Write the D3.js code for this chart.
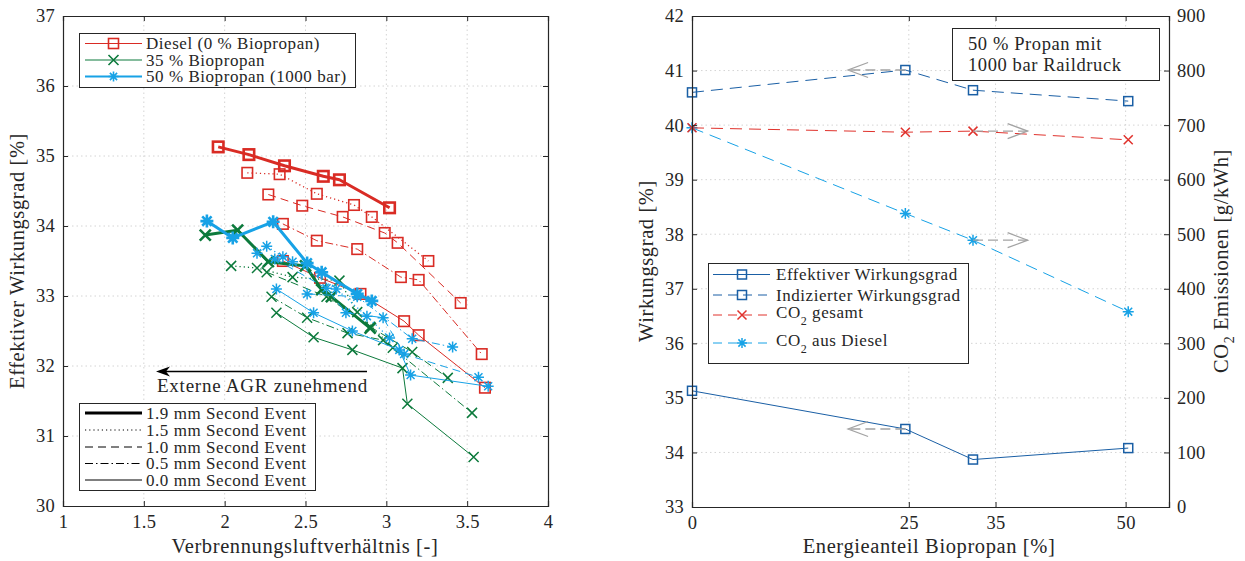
<!DOCTYPE html>
<html><head><meta charset="utf-8">
<script src="https://cdn.jsdelivr.net/npm/d3@7"></script>
<style>
body{margin:0;background:#fff}
text{font-family:"Liberation Serif","Times New Roman",serif;fill:#262626}
</style>
</head><body>
<svg id="c" width="1245" height="561"></svg>
<script>
// ---------------- DATA: left chart (lambda, efficiency) ----------------
const xTicksLeft = [1, 1.5, 2, 2.5, 3, 3.5, 4];
const yTicksLeft = [30, 31, 32, 33, 34, 35, 36, 37];

const diesel19 = [[1.96,35.13],[2.15,35.02],[2.37,34.86],[2.61,34.71],[2.71,34.66],[3.02,34.26]];
const diesel15 = [[2.14,34.76],[2.34,34.74],[2.57,34.46],[2.80,34.30],[2.91,34.13],[3.26,33.50]];
const diesel10 = [[2.27,34.45],[2.48,34.29],[2.73,34.13],[2.99,33.90],[3.07,33.76],[3.46,32.90]];
const diesel05 = [[2.36,34.03],[2.57,33.79],[2.82,33.67],[3.09,33.27],[3.20,33.23],[3.59,32.17]];
const diesel00 = [[2.36,33.50],[2.59,33.26],[2.84,33.03],[3.11,32.64],[3.20,32.44],[3.61,31.69]];

const bio35_19 = [[1.88,33.87],[2.08,33.94],[2.27,33.49],[2.50,33.43],[2.60,33.09],[2.66,32.99],[2.90,32.54]];
const bio35_15 = [[2.04,33.43],[2.20,33.40],[2.42,33.27],[2.71,33.22],[2.82,32.77],[3.04,32.26]];
const bio35_10 = [[2.26,33.34],[2.63,32.99],[2.90,32.56],[3.16,32.20],[3.38,31.83]];
const bio35_05 = [[2.29,32.99],[2.51,32.69],[2.76,32.47],[2.98,32.37],[3.53,31.33]];
const bio35_00 = [[2.32,32.76],[2.55,32.41],[2.79,32.23],[3.10,31.97],[3.13,31.46],[3.54,30.70]];

const bio50_19 = [[1.89,34.07],[2.05,33.83],[2.30,34.06],[2.51,33.47],[2.60,33.34],[2.82,33.03],[2.91,32.93]];
const bio50_15 = [[2.20,33.61],[2.26,33.71],[2.36,33.56],[2.42,33.49],[2.69,33.10],[2.88,32.71],[3.02,32.40]];
const bio50_10 = [[2.31,33.53],[2.63,33.11],[2.75,32.76],[2.98,32.69],[3.11,32.17],[3.57,31.84]];
const bio50_05 = [[2.51,33.03],[2.82,32.99],[3.16,32.39],[3.41,32.27]];
const bio50_00 = [[2.32,33.10],[2.55,32.76],[2.79,32.50],[3.08,32.23],[3.15,31.87],[3.63,31.71]];

const fuelLabels = ["Diesel (0 % Biopropan)", "35 % Biopropan", "50 % Biopropan (1000 bar)"];
const eventLabels = ["1.9 mm Second Event","1.5 mm Second Event","1.0 mm Second Event","0.5 mm Second Event","0.0 mm Second Event"];

// ---------------- DATA: right chart ----------------
const shareBiopropan = [0, 24.6, 32.4, 50.3];
const effWirkungsgrad = [35.13, 34.43, 33.87, 34.08];
const indWirkungsgrad = [40.60, 41.01, 40.64, 40.44];
const co2Gesamt = [695, 687, 689, 673];
const co2Diesel = [695, 538, 489, 358];
const xTicksRight = [0, 25, 35, 50];
const yTicksRightL = [33,34,35,36,37,38,39,40,41,42];
const yTicksRightR = [0,100,200,300,400,500,600,700,800,900];

// ---------------- STYLE ----------------
const RED = "#d92b24", GREEN = "#0c7a3c", LBLUE = "#17a2e6", DBLUE = "#1a5fa5", GRAY = "#a3a3a3", INK = "#262626";
const dashes = {s19:null, s15:"1.2,3", s10:"8,5", s05:"8,3,1.5,3", s00:null};
const LS_LEG = "0.55px", LS_LAB = "0.6px";

const svg = d3.select("#c");

// ---------------- SCALES ----------------
const xL = d3.scaleLinear().domain([1,4]).range([63,548]);
const yL = d3.scaleLinear().domain([30,37]).range([506,16]);
const xR = d3.scaleLinear().domain([0,55]).range([692,1169]);
const yR1 = d3.scaleLinear().domain([33,42]).range([507,16]);
const yR2 = d3.scaleLinear().domain([0,900]).range([507,16]);

function marker(g, type, cx, cy, size, color, sw){
  const s = size/2;
  if(type==="square"){
    g.append("rect").attr("x",cx-s).attr("y",cy-s).attr("width",size).attr("height",size)
      .attr("fill","none").attr("stroke",color).attr("stroke-width",sw);
  } else if(type==="cross"){
    g.append("path").attr("d",`M${cx-s},${cy-s}L${cx+s},${cy+s}M${cx-s},${cy+s}L${cx+s},${cy-s}`)
      .attr("stroke",color).attr("stroke-width",sw).attr("fill","none");
  } else if(type==="star"){
    const d = s*0.72;
    g.append("path").attr("d",`M${cx-s},${cy}L${cx+s},${cy}M${cx},${cy-s}L${cx},${cy+s}M${cx-d},${cy-d}L${cx+d},${cy+d}M${cx-d},${cy+d}L${cx+d},${cy-d}`)
      .attr("stroke",color).attr("stroke-width",sw).attr("fill","none");
  }
}

function grid(g, xs, ys, xt, yt){
  const [x0,x1] = xs.range(), [y1,y0] = ys.range();
  xt.forEach(v=>{ const p=xs(v); if(p>x0+1 && p<x1-1) g.append("line").attr("x1",p).attr("x2",p).attr("y1",y0).attr("y2",y1)
      .attr("stroke","#d4d4d4").attr("stroke-width",1).attr("stroke-dasharray","1.5,3"); });
  yt.forEach(v=>{ const p=ys(v); if(p>y0+1 && p<y1-1) g.append("line").attr("x1",x0).attr("x2",x1).attr("y1",p).attr("y2",p)
      .attr("stroke","#d4d4d4").attr("stroke-width",1).attr("stroke-dasharray","1.5,3"); });
}

function axes(g, xs, ys, xt, yt, ys2, yt2){
  const [x0,x1] = xs.range(), [y1,y0] = ys.range();
  const fmt = d3.format("~g");
  const ax = g.append("g").attr("transform",`translate(0,${y1})`)
    .call(d3.axisBottom(xs).tickValues(xt).tickFormat(fmt).tickSize(-5).tickPadding(9));
  const axT = g.append("g").attr("transform",`translate(0,${y0})`)
    .call(d3.axisTop(xs).tickValues(xt).tickFormat("").tickSize(-5));
  const ay = g.append("g").attr("transform",`translate(${x0},0)`)
    .call(d3.axisLeft(ys).tickValues(yt).tickFormat(fmt).tickSize(-5).tickPadding(8));
  let ay2;
  if(ys2){
    ay2 = g.append("g").attr("transform",`translate(${x1},0)`)
      .call(d3.axisRight(ys2).tickValues(yt2).tickFormat(fmt).tickSize(-5).tickPadding(8));
  } else {
    ay2 = g.append("g").attr("transform",`translate(${x1},0)`)
      .call(d3.axisRight(ys).tickValues(yt).tickFormat("").tickSize(-5));
  }
  [ax,axT,ay,ay2].forEach(a=>{
    a.select(".domain").attr("stroke",INK).attr("stroke-width",1.2);
    a.selectAll(".tick line").attr("stroke",INK).attr("stroke-width",1);
    a.selectAll(".tick text").style("font-family",'"Liberation Serif",serif').style("font-size","18.5px").style("letter-spacing","0.3px").attr("fill",INK);
  });
}

function label(g, x, y, rot, parts){
  const t = g.append("text").attr("transform",`translate(${x},${y})`+(rot?` rotate(${rot})`:""))
    .attr("text-anchor","middle").style("font-size","20.5px").style("letter-spacing",LS_LAB);
  parts.forEach(p=>{
    const s = t.append("tspan").text(p.t);
    if(p.sub) s.attr("dy",6).style("font-size","14px");
    if(p.up) s.attr("dy",-6);
  });
}

// ================= LEFT CHART =================
const gL = svg.append("g");
grid(gL, xL, yL, xTicksLeft, yTicksLeft);

const lineL = d3.line().x(d=>xL(d[0])).y(d=>yL(d[1]));
function series(data, color, dash, width, mtype, msize, msw){
  const g = gL.append("g");
  g.append("path").attr("d",lineL(data)).attr("fill","none").attr("stroke",color)
    .attr("stroke-width",width).attr("stroke-dasharray",dash).attr("stroke-linejoin","round");
  data.forEach(d=>marker(g, mtype, xL(d[0]), yL(d[1]), msize, color, msw));
}
series(diesel00, RED, dashes.s00, 1, "square", 10.5, 1.6);
series(diesel05, RED, dashes.s05, 1, "square", 10.5, 1.6);
series(diesel10, RED, dashes.s10, 1, "square", 10.5, 1.6);
series(diesel15, RED, dashes.s15, 1.3, "square", 10.5, 1.6);
series(diesel19, RED, dashes.s19, 3, "square", 10.5, 2.6);
series(bio35_00, GREEN, dashes.s00, 1, "cross", 10, 1.5);
series(bio35_05, GREEN, dashes.s05, 1, "cross", 10, 1.5);
series(bio35_10, GREEN, dashes.s10, 1, "cross", 10, 1.5);
series(bio35_15, GREEN, dashes.s15, 1.3, "cross", 10, 1.5);
series(bio35_19, GREEN, dashes.s19, 3, "cross", 11, 2.6);
series(bio50_00, LBLUE, dashes.s00, 1, "star", 11, 1.5);
series(bio50_05, LBLUE, dashes.s05, 1, "star", 11, 1.5);
series(bio50_10, LBLUE, dashes.s10, 1, "star", 11, 1.5);
series(bio50_15, LBLUE, dashes.s15, 1.3, "star", 11, 1.5);
series(bio50_19, LBLUE, dashes.s19, 3, "star", 13, 2.6);

axes(gL, xL, yL, xTicksLeft, yTicksLeft);

label(gL, 305, 553, 0, [{t:"Verbrennungsluftverhältnis [-]"}]);
label(gL, 24, 261, -90, [{t:"Effektiver Wirkungsgrad [%]"}]);

// fuel legend
{
  const g = gL.append("g");
  g.append("rect").attr("x",79.5).attr("y",33.5).attr("width",276).attr("height",54).attr("fill","#fff").attr("stroke",INK).attr("stroke-width",1);
  const cols = [RED, GREEN, LBLUE], types = ["square","cross","star"], ys = [43.5,60,76.5], lw=[1.2,1.2,2];
  fuelLabels.forEach((t,i)=>{
    g.append("line").attr("x1",85).attr("x2",142).attr("y1",ys[i]).attr("y2",ys[i]).attr("stroke",cols[i]).attr("stroke-width",lw[i]);
    marker(g, types[i], 113.5, ys[i], 10, cols[i], 1.6);
    g.append("text").attr("x",146).attr("y",ys[i]).attr("dy","0.35em").style("font-size","17px").style("letter-spacing",LS_LEG).text(t);
  });
}
// event legend
{
  const g = gL.append("g");
  g.append("rect").attr("x",79.5).attr("y",403.5).attr("width",236).attr("height",87).attr("fill","#fff").attr("stroke",INK).attr("stroke-width",1);
  const st = [[3,null],[1,"1.2,3"],[1,"8,5"],[1,"8,3,1.5,3"],[1,null]], ys=[413,430,447,463.5,480];
  eventLabels.forEach((t,i)=>{
    g.append("line").attr("x1",85).attr("x2",142).attr("y1",ys[i]).attr("y2",ys[i]).attr("stroke","#000")
      .attr("stroke-width",st[i][0]).attr("stroke-dasharray",st[i][1]);
    g.append("text").attr("x",146).attr("y",ys[i]).attr("dy","0.35em").style("font-size","17px").style("letter-spacing",LS_LEG).text(t);
  });
}
// arrow annotation
{
  const g = gL.append("g");
  g.append("line").attr("x1",165).attr("x2",367).attr("y1",371.5).attr("y2",371.5).attr("stroke","#000").attr("stroke-width",1.5);
  g.append("path").attr("d","M156,371.5 L170,366.5 L166,371.5 L170,376.5 Z").attr("fill","#000");
  g.append("text").attr("x",157).attr("y",392).style("font-size","19px").style("letter-spacing","0.75px").text("Externe AGR zunehmend");
}

// ================= RIGHT CHART =================
const gR = svg.append("g");
grid(gR, xR, yR1, xTicksRight, yTicksRightL);

function rseries(xs, ys, yscale, color, dash, width, mtype, msize){
  const g = gR.append("g");
  const pts = xs.map((x,i)=>[xR(x), yscale(ys[i])]);
  g.append("path").attr("d",d3.line()(pts)).attr("fill","none").attr("stroke",color).attr("stroke-width",width).attr("stroke-dasharray",dash);
  pts.forEach(p=>marker(g, mtype, p[0], p[1], msize, color, 1.5));
}
rseries(shareBiopropan, co2Diesel, yR2, LBLUE, "12,7", 1, "star", 11);
rseries(shareBiopropan, co2Gesamt, yR2, "#e0322c", "12,7", 1, "cross", 9);
rseries(shareBiopropan, indWirkungsgrad, yR1, DBLUE, "12,7", 1, "square", 9);
rseries(shareBiopropan, effWirkungsgrad, yR1, DBLUE, null, 1, "square", 9);

function grayArrow(xFrom, xTo, yv){
  const g = gR.append("g");
  const a = xR(xFrom), b = xR(xTo);
  g.append("line").attr("x1",a).attr("x2",b).attr("y1",yv).attr("y2",yv).attr("stroke",GRAY).attr("stroke-width",1.3).attr("stroke-dasharray","10,5");
  const dir = b < a ? 1 : -1;
  g.append("path").attr("d",`M${b+dir*20},${yv-7.5} L${b},${yv} L${b+dir*20},${yv+7.5}`).attr("fill","none").attr("stroke",GRAY).attr("stroke-width",1.3);
}
grayArrow(shareBiopropan[1], 18.0, yR1(indWirkungsgrad[1]));
grayArrow(shareBiopropan[2], 38.7, yR2(co2Gesamt[2]));
grayArrow(shareBiopropan[2], 38.7, yR2(co2Diesel[2]));
grayArrow(shareBiopropan[1], 18.0, yR1(effWirkungsgrad[1]));

axes(gR, xR, yR1, xTicksRight, yTicksRightL, yR2, yTicksRightR);

label(gR, 929, 553, 0, [{t:"Energieanteil Biopropan [%]"}]);
label(gR, 653, 261, -90, [{t:"Wirkungsgrad [%]"}]);
label(gR, 1228, 261, -90, [{t:"CO"},{t:"2",sub:true},{t:" Emissionen [g/kWh]",up:true}]);

// text box
{
  const g = gR.append("g");
  g.append("rect").attr("x",952.5).attr("y",28.5).attr("width",207).attr("height",52).attr("fill","#fff").attr("stroke",INK).attr("stroke-width",1);
  g.append("text").attr("x",968).attr("y",50).style("font-size","18.5px").style("letter-spacing","0.6px").text("50 % Propan mit");
  g.append("text").attr("x",968).attr("y",71).style("font-size","18.5px").style("letter-spacing","0.6px").text("1000 bar Raildruck");
}
// legend
{
  const g = gR.append("g");
  g.append("rect").attr("x",708.5).attr("y",263.5).attr("width",260).attr("height",100).attr("fill","#fff").attr("stroke",INK).attr("stroke-width",1);
  const rows = [
    {y:274.5, c:DBLUE, d:null, m:"square", t:["Effektiver Wirkungsgrad"]},
    {y:295, c:DBLUE, d:"12,7", m:"square", t:["Indizierter Wirkungsgrad"]},
    {y:315, c:"#e0322c", d:"12,7", m:"cross", t:["CO","2"," gesamt"]},
    {y:343, c:LBLUE, d:"12,7", m:"star", t:["CO","2"," aus Diesel"]}
  ];
  rows.forEach(r=>{
    g.append("line").attr("x1",713).attr("x2",770).attr("y1",r.y).attr("y2",r.y).attr("stroke",r.c).attr("stroke-width",1).attr("stroke-dasharray",r.d ? "9,6" : null);
    marker(g, r.m, 742, r.y, r.m==="star"?10:9, r.c, 1.5);
    const ty = r.t.length>1 ? r.y-3 : r.y;
    const t = g.append("text").attr("x",776).attr("y",ty).attr("dy","0.35em").style("font-size","17px").style("letter-spacing",LS_LEG);
    if(r.t.length===1) t.text(r.t[0]);
    else { t.append("tspan").text(r.t[0]); t.append("tspan").attr("dy",7).style("font-size","12px").text(r.t[1]); t.append("tspan").attr("dy",-7).text(r.t[2]); }
  });
}
</script>
</body></html>
